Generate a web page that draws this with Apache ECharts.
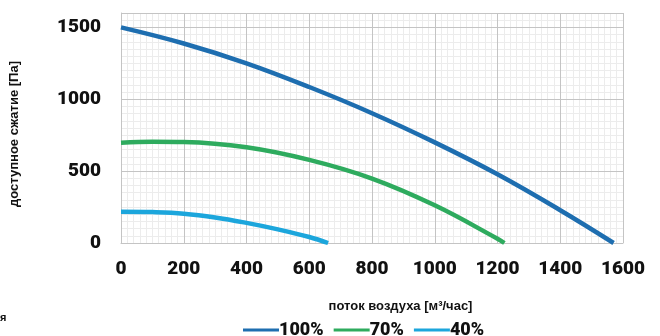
<!DOCTYPE html>
<html><head><meta charset="utf-8">
<script src="https://cdn.jsdelivr.net/npm/echarts@6/dist/echarts.min.js"></script>
<style>html,body{margin:0;padding:0;background:#fff}#c{width:660px;height:336px}</style>
</head><body><div id="c"></div>
<script>
const seriesNames = ['100%', '70%', '40%'];
const flow100 = [0, 200, 400, 600, 800, 1000, 1200, 1400, 1570];
const press100 = [1500, 1388, 1250, 1085, 903, 700, 478, 228, 0];
const flow70 = [0, 100, 200, 400, 600, 800, 1000, 1200, 1222];
const press70 = [698, 705, 703, 666, 578, 448, 262, 30, 0];
const flow40 = [0, 100, 200, 300, 400, 500, 600, 660];
const press40 = [218, 215, 204, 178, 140, 95, 42, 0];
const xTicks = [0, 200, 400, 600, 800, 1000, 1200, 1400, 1600];
const yTicks = [0, 500, 1000, 1500];
const colors = ['#1e6eb0', '#2eab5e', '#1ca6dc'];

const pair = (xs, ys) => xs.map((x, i) => [x, ys[i]]);
const labelFont = {fontFamily: 'Roboto', fontWeight: 900, fontSize: 19, color: '#111'};
const nameFont = {fontFamily: 'Liberation Sans', fontWeight: 'bold', fontSize: 13, color: '#111'};
const major = '#c4c4c4', minor = '#ececec';

const chart = echarts.init(document.getElementById('c'));
chart.setOption({
  animation: false,
  grid: {left: 120, right: 37, top: 13, bottom: 93},
  xAxis: [{
    type: 'value', min: 0, max: 1600, interval: 200, z: 3,
    name: 'поток воздуха [м³/час]', nameLocation: 'middle', nameGap: 57,
    nameTextStyle: Object.assign({padding: [0, 0, 0, 57]}, nameFont),
    axisLine: {show: true, lineStyle: {color: major}}, axisTick: {show: false},
    axisLabel: Object.assign({margin: 17, formatter: v => xTicks.includes(v) ? String(v) : ''}, labelFont),
    splitLine: {show: true, lineStyle: {color: major}}
  }, {
    type: 'value', min: 0, max: 1600, interval: 20, position: 'bottom', z: 1,
    axisLine: {show: false}, axisTick: {show: false}, axisLabel: {show: false},
    splitLine: {show: true, lineStyle: {color: minor}}
  }],
  yAxis: [{
    type: 'value', min: 0, max: 1600, interval: 500, z: 3,
    name: 'доступное сжатие [Па]', nameLocation: 'middle', nameGap: 100, nameRotate: 90,
    nameTextStyle: Object.assign({padding: [0, 12, 0, 0]}, nameFont),
    axisLine: {show: true, lineStyle: {color: major}}, axisTick: {show: false},
    axisLabel: Object.assign({margin: 20, showMaxLabel: false, formatter: v => yTicks.includes(v) ? String(v) : ''}, labelFont),
    splitLine: {show: true, lineStyle: {color: major}}
  }, {
    type: 'value', min: 0, max: 1600, interval: 50, position: 'left', z: 1,
    axisLine: {show: false}, axisTick: {show: false}, axisLabel: {show: false},
    splitLine: {show: true, lineStyle: {color: minor}}
  }],
  legend: {
    left: 238, top: 316, icon: 'rect', itemWidth: 36, itemHeight: 3, itemGap: 10,
    data: seriesNames,
    textStyle: {fontFamily: 'Roboto', fontWeight: 900, fontSize: 18, color: '#111', padding: [0, 0, 0, -5]}
  },
  graphic: [{type: 'text', left: 0, top: 312, style: {text: 'я', fontFamily: 'Liberation Sans', fontWeight: 'bold', fontSize: 11, fill: '#111'}}],
  series: [
    {name: seriesNames[0], type: 'line', smooth: 0.4, symbol: 'none', z: 5, data: pair(flow100, press100), lineStyle: {width: 4.5, color: colors[0]}, itemStyle: {color: colors[0]}},
    {name: seriesNames[1], type: 'line', smooth: 0.4, symbol: 'none', z: 5, data: pair(flow70, press70), lineStyle: {width: 4.5, color: colors[1]}, itemStyle: {color: colors[1]}},
    {name: seriesNames[2], type: 'line', smooth: 0.4, symbol: 'none', z: 5, data: pair(flow40, press40), lineStyle: {width: 4.5, color: colors[2]}, itemStyle: {color: colors[2]}}
  ]
});
</script></body></html>
